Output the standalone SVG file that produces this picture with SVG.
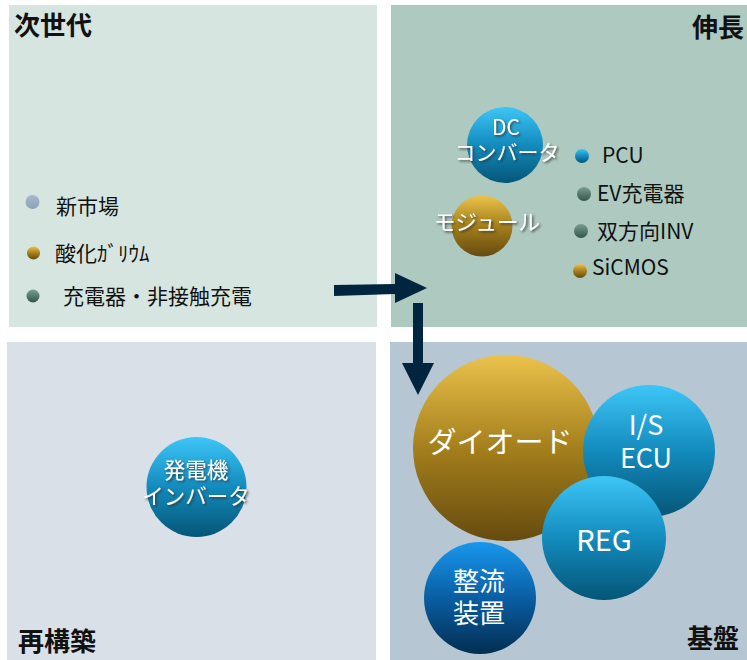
<svg xmlns="http://www.w3.org/2000/svg" width="747" height="660" viewBox="0 0 747 660">
<defs>
<linearGradient id="gBlue" x1="0" y1="0" x2="0" y2="1"><stop offset="0" stop-color="#3ec5f7"/><stop offset="0.5" stop-color="#138bbd"/><stop offset="1" stop-color="#055677"/></linearGradient>
<linearGradient id="gGold" x1="0" y1="0" x2="0" y2="1"><stop offset="0" stop-color="#ebc24b"/><stop offset="0.5" stop-color="#a47f1c"/><stop offset="1" stop-color="#664b0f"/></linearGradient>
<linearGradient id="gNavy" x1="0" y1="0" x2="0" y2="1"><stop offset="0" stop-color="#1898ee"/><stop offset="0.5" stop-color="#0a5ea3"/><stop offset="1" stop-color="#022e52"/></linearGradient>
<linearGradient id="gGreen" x1="0" y1="0" x2="0" y2="1"><stop offset="0" stop-color="#7a9e90"/><stop offset="1" stop-color="#34544a"/></linearGradient>
<linearGradient id="gGrey" x1="0" y1="0" x2="0" y2="1"><stop offset="0" stop-color="#a5b8cc"/><stop offset="1" stop-color="#8ea3b8"/></linearGradient>
<filter id="sh" x="-20%" y="-20%" width="140%" height="140%"><feDropShadow dx="1.5" dy="1.5" stdDeviation="0.8" flood-color="#333" flood-opacity="0.8"/></filter>
</defs>
<style>
text{font-family:"Noto Sans CJK JP","Noto Sans",sans-serif}
.title{font-size:26px;font-weight:bold;fill:#111}
.lbl{font-size:21px;fill:#111}
.ct{fill:#fff;text-anchor:middle}
.sh{filter:url(#sh)}
</style>
<g id="quadrants">
<rect x="9" y="5" width="368" height="322" fill="#d6e5e0"/>
<rect x="391" y="5" width="356" height="322" fill="#adc9c0"/>
<rect x="7" y="342" width="369" height="318" fill="#d9e0e8"/>
<rect x="390" y="342" width="357" height="318" fill="#b6c6d2"/>
</g>
<g id="titles">
<text class="title" x="14" y="35">次世代</text>
<text class="title" x="692" y="37">伸長</text>
<text class="title" x="18" y="651">再構築</text>
<text class="title" x="687" y="648">基盤</text>
</g>
<g id="legend-left">
<circle cx="32.5" cy="202" r="7" fill="url(#gGrey)"/>
<text class="lbl" x="56" y="214">新市場</text>
<circle cx="33.5" cy="253" r="6.5" fill="url(#gGold)"/>
<text class="lbl" x="55" y="261" font-size="21.5">酸化ｶﾞﾘｳﾑ</text>
<circle cx="33" cy="296" r="6.5" fill="url(#gGreen)"/>
<text class="lbl" x="63" y="304" font-size="22">充電器・非接触充電</text>
</g>
<g id="legend-right">
<circle cx="582" cy="156" r="7" fill="url(#gBlue)"/>
<text class="lbl" x="602" y="163">PCU</text>
<circle cx="584" cy="194" r="7" fill="url(#gGreen)"/>
<text class="lbl" x="597" y="201">EV充電器</text>
<circle cx="581" cy="231" r="7" fill="url(#gGreen)"/>
<text class="lbl" x="597" y="239">双方向INV</text>
<circle cx="580" cy="271" r="7" fill="url(#gGold)"/>
<text class="lbl" x="592" y="275">SiCMOS</text>
</g>
<g id="connectors" fill="#00263f">
<polygon points="334,285 395,284 395,273 427,288 395,303 395,294 334,296"/>
<polygon points="413,303 423,303 423,363 434,363 418,395 402,363 413,363"/>
</g>
<g id="node-dc">
<circle cx="505" cy="145" r="38" fill="url(#gBlue)"/>
<text class="ct sh" font-size="21"><tspan x="506" y="135">DC</tspan><tspan x="507" y="160">コンバータ</tspan></text>
</g>
<g id="node-module">
<circle cx="482" cy="226" r="30.5" fill="url(#gGold)"/>
<text class="ct sh" x="487" y="230" font-size="21.5">モジュール</text>
</g>
<g id="node-inverter">
<circle cx="196.5" cy="487" r="50" fill="url(#gBlue)"/>
<text class="ct sh" font-size="21.5"><tspan x="196" y="478">発電機</tspan><tspan x="196" y="504">インバータ</tspan></text>
</g>
<g id="node-diode">
<circle cx="506" cy="448" r="93" fill="url(#gGold)"/>
<text class="ct" x="500" y="453" font-size="29">ダイオード</text>
</g>
<g id="node-isecu">
<circle cx="649" cy="451" r="66" fill="url(#gBlue)"/>
<text class="ct" font-size="27"><tspan x="646" y="435">I/S</tspan><tspan x="646" y="468">ECU</tspan></text>
</g>
<g id="node-reg">
<circle cx="604" cy="538" r="62" fill="url(#gBlue)"/>
<text class="ct" x="604" y="551" font-size="29">REG</text>
</g>
<g id="node-seiryu">
<circle cx="480" cy="598" r="56" fill="url(#gNavy)"/>
<text class="ct" font-size="26"><tspan x="479" y="591">整流</tspan><tspan x="479" y="623">装置</tspan></text>
</g>
</svg>
